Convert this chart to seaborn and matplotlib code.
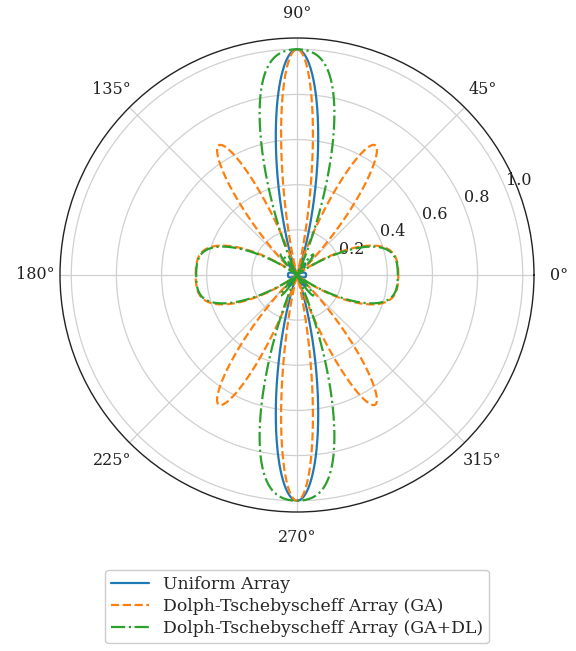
import numpy as np
import matplotlib
matplotlib.use("Agg")
import matplotlib.pyplot as plt
import seaborn as sns

# Element excitations (symmetric linear arrays) and element spacing in wavelengths
uniform_weights = [1.0, 1.0, 1.0, 1.0, 1.0]
ga_weights = [0.4125, 0.0825, 0.01, 0.0825, 0.4125]
ga_dl_weights = [-0.116, 0.237, 0.199, 0.361, 0.199, 0.237, -0.116]
spacing = 0.5

labels = ["Uniform Array",
          "Dolph-Tschebyscheff Array (GA)",
          "Dolph-Tschebyscheff Array (GA+DL)"]
line_styles = ["-", "--", "-."]

radial_ticks = [0.2, 0.4, 0.6, 0.8, 1.0]


def power_pattern(weights, theta, d):
    w = np.asarray(weights, dtype=float)
    n = np.arange(len(w)) - (len(w) - 1) / 2.0
    psi = 2 * np.pi * d * np.cos(theta)
    af = np.abs(np.exp(1j * np.outer(psi, n)) @ w) ** 2
    return af / af.max()


sns.set_theme(style="whitegrid", palette="tab10")
plt.rcParams["font.family"] = ["DejaVu Serif"]

fig = plt.figure(figsize=(5.76, 6.51), dpi=100)
ax = fig.add_axes([60 / 576, 139 / 651, 474 / 576, 474 / 651], projection="polar")

theta = np.linspace(0, 2 * np.pi, 3601)
colors = sns.color_palette("tab10", 3)
for w, lab, ls, c in zip([uniform_weights, ga_weights, ga_dl_weights],
                         labels, line_styles, colors):
    sns.lineplot(x=theta, y=power_pattern(w, theta, spacing), ax=ax,
                 label=lab, linestyle=ls, color=c, linewidth=1.6,
                 sort=False, estimator=None)

ax.set_xlabel("")
ax.set_ylabel("")
ax.set_rlim(0, 1.05)
ax.set_rticks(radial_ticks)
ax.set_yticklabels([f"{t:.1f}" for t in radial_ticks])
ax.set_rlabel_position(22.5)
ax.tick_params(labelsize=11.5, colors="#222222")
ax.tick_params(axis="x", pad=5)
ax.grid(True, color="#d0d0d0", linewidth=0.9)
ax.spines["polar"].set_color("#222222")
ax.spines["polar"].set_linewidth(1.0)

ax.legend(loc="upper center", bbox_to_anchor=(0.5, -0.104), fontsize=12.4,
          frameon=True, edgecolor="#cccccc", framealpha=1.0,
          handlelength=2.2, borderpad=0.35, labelspacing=0.3)

fig.savefig("out.png", dpi=100, facecolor="white")
